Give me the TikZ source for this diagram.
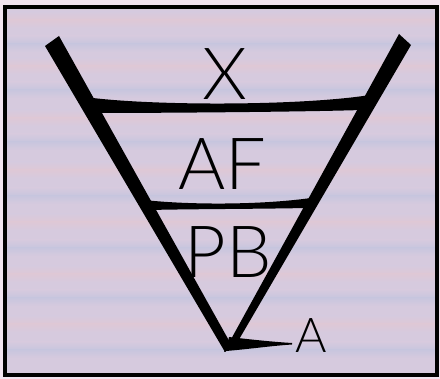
\documentclass[tikz,border=0pt]{standalone}
\usepackage{fontspec}
\setmainfont{Lato Light}
\definecolor{outerpink}{RGB}{242,228,240}
\definecolor{lav}{RGB}{214,202,222}
\definecolor{pinkband}{RGB}{222,200,214}
\definecolor{blueband}{RGB}{200,198,222}
\begin{document}
\begin{tikzpicture}[x=1pt,y=-1pt,
  ink/.style={fill=black},
  biglabel/.style={font=\fontsize{72}{72}\selectfont, inner sep=0pt, anchor=base},
  smalllabel/.style={font=\fontsize{48}{48}\selectfont, inner sep=0pt, anchor=base},
  frame/.style={draw=black, line width=4pt}
]
\useasboundingbox (0,0) rectangle (440,379);
\fill[outerpink] (0,0) rectangle (440,379);
\fill[lav] (5,7) rectangle (437,375);
% soft horizontal bands of the paper texture
\foreach \y/\c in {20/pinkband,44/blueband,66/pinkband,90/blueband,118/pinkband,142/blueband,170/pinkband,196/blueband,222/pinkband,248/blueband,274/pinkband,298/blueband,324/pinkband,350/blueband}{
  \shade[top color=lav, bottom color=\c] (7,\y-8) rectangle (435,\y);
  \shade[top color=\c, bottom color=lav] (7,\y) rectangle (435,\y+8);
}
\draw[frame] (5,7) rectangle (437,375);

% left arm
\path[ink] (45,46) -- (59,36) -- (232,346) -- (225,352) -- cycle;
% right arm
\path[ink] (399,34) -- (411,45) -- (234,348) -- (224,352) -- cycle;
% pointer to A
\path[ink] (229,337) .. controls (255,340) and (275,342) .. (292,343) -- (292,344.5) .. controls (270,346) and (250,349) .. (226,351) -- cycle;
% top bar
\path[ink] (85,97) .. controls (150,106) and (300,106) .. (370,95) -- (362,110) .. controls (300,112) and (150,113) .. (94,113) -- cycle;
% middle bar
\path[ink] (144,200) .. controls (190,205) and (260,205) .. (311,198) -- (306,208) .. controls (260,209) and (190,209) .. (150,210) -- cycle;

\node[biglabel] (x) at (225,100) {X};
\node[biglabel] (af) at (222,190) {AF};
\node[biglabel] (pb) at (228,278) {PB};
\node[smalllabel] (a) at (311,353) {A};
\end{tikzpicture}
\end{document}
